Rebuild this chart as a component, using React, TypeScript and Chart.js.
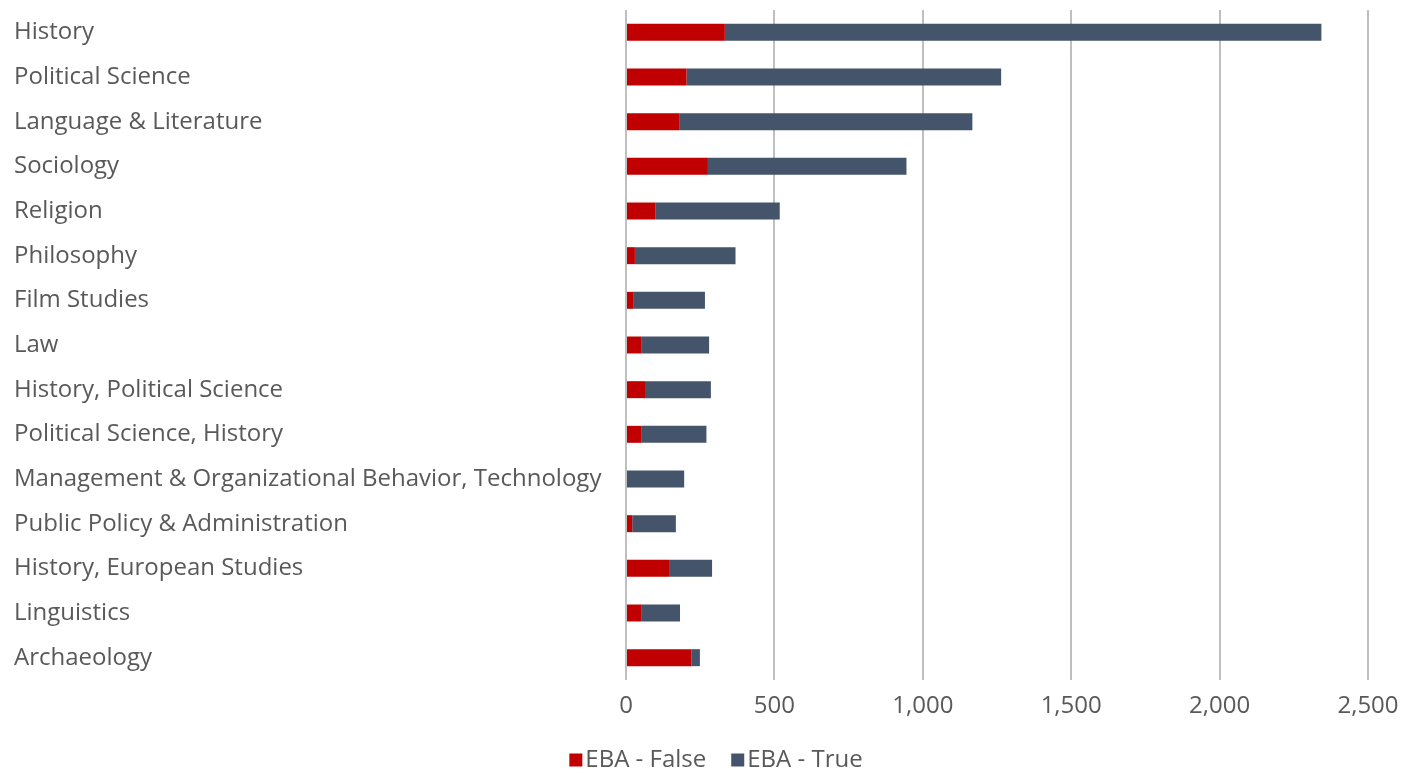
import React, { useEffect, useRef } from "react";
import { Chart, registerables } from "chart.js";

Chart.register(...registerables);

const categories = [
  "History",
  "Political Science",
  "Language & Literature",
  "Sociology",
  "Religion",
  "Philosophy",
  "Film Studies",
  "Law",
  "History, Political Science",
  "Political Science, History",
  "Management & Organizational Behavior, Technology",
  "Public Policy & Administration",
  "History, European Studies",
  "Linguistics",
  "Archaeology",
];

const ebaFalse = [333, 204, 179, 276, 100, 30, 24, 53, 64, 53, 0, 21, 145, 53, 221];
const ebaTrue = [2010, 1060, 988, 669, 418, 339, 242, 227, 222, 218, 196, 147, 145, 129, 28];

const xTicks = [0, 500, 1000, 1500, 2000, 2500];

const FONT = "'Open Sans', Lato, sans-serif";
const TEXT = "#595959";
const FONT_SIZE = 24;

const bottomLegend = {
  id: "bottomLegend",
  afterDraw(chart: any) {
    const ctx = chart.ctx as CanvasRenderingContext2D;
    const items = chart.data.datasets.map((d: any) => ({ text: d.label, color: d.backgroundColor }));
    ctx.save();
    ctx.font = `${FONT_SIZE}px ${FONT}`;
    const box = 13;
    const gap = 3;
    const itemGap = 25;
    const widths = items.map((it: any) => box + gap + ctx.measureText(it.text).width);
    const total = widths.reduce((a: number, b: number) => a + b, 0) + itemGap * (items.length - 1);
    let x = 716 - total / 2;
    const cy = 760;
    ctx.textBaseline = "middle";
    ctx.textAlign = "left";
    items.forEach((it: any, i: number) => {
      ctx.fillStyle = it.color;
      ctx.fillRect(x, cy - box / 2, box, box);
      ctx.fillStyle = TEXT;
      ctx.fillText(it.text, x + box + gap, cy);
      x += widths[i] + itemGap;
    });
    ctx.restore();
  },
};

export default function App() {
  const ref = useRef<HTMLCanvasElement | null>(null);

  useEffect(() => {
    if (!ref.current) return;
    const chart = new Chart(ref.current, {
      type: "bar",
      data: {
        labels: categories,
        datasets: [
          {
            label: "EBA - False",
            data: ebaFalse,
            backgroundColor: "#C00000",
            barPercentage: 0.38,
            categoryPercentage: 1,
          },
          {
            label: "EBA - True",
            data: ebaTrue,
            backgroundColor: "#44546A",
            barPercentage: 0.38,
            categoryPercentage: 1,
          },
        ],
      },
      plugins: [bottomLegend],
      options: {
        indexAxis: "y",
        animation: false,
        responsive: false,
        maintainAspectRatio: false,
        layout: { padding: { left: 14, right: 37, top: 10, bottom: 0 } },
        plugins: {
          tooltip: { enabled: false },
          legend: { display: false },
        },
        scales: {
          x: {
            stacked: true,
            min: 0,
            max: 2500,
            afterBuildTicks: (scale: any) => {
              scale.ticks = xTicks.map((v) => ({ value: v }));
            },
            afterFit: (scale: any) => {
              scale.height = 91;
              scale.paddingLeft = 0;
              scale.paddingRight = 0;
            },
            grid: { color: "#BFBFBF", lineWidth: 2, drawTicks: false },
            border: { display: false },
            ticks: {
              color: TEXT,
              font: { family: FONT, size: FONT_SIZE },
              padding: 12,
            },
          },
          y: {
            stacked: true,
            grid: { display: false },
            border: { display: false },
            afterFit: (scale: any) => {
              scale.width = 612;
              scale.paddingTop = 0;
              scale.paddingBottom = 0;
            },
            ticks: {
              color: TEXT,
              font: { family: FONT, size: FONT_SIZE },
              crossAlign: "far",
              autoSkip: false,
            },
          },
        },
      },
    });
    return () => chart.destroy();
  }, []);

  return (
    <div style={{ position: "fixed", left: 0, top: 0, width: 1405, height: 771, background: "#fff" }}>
      <canvas ref={ref} width={1405} height={771} style={{ width: 1405, height: 771 }} />
    </div>
  );
}
